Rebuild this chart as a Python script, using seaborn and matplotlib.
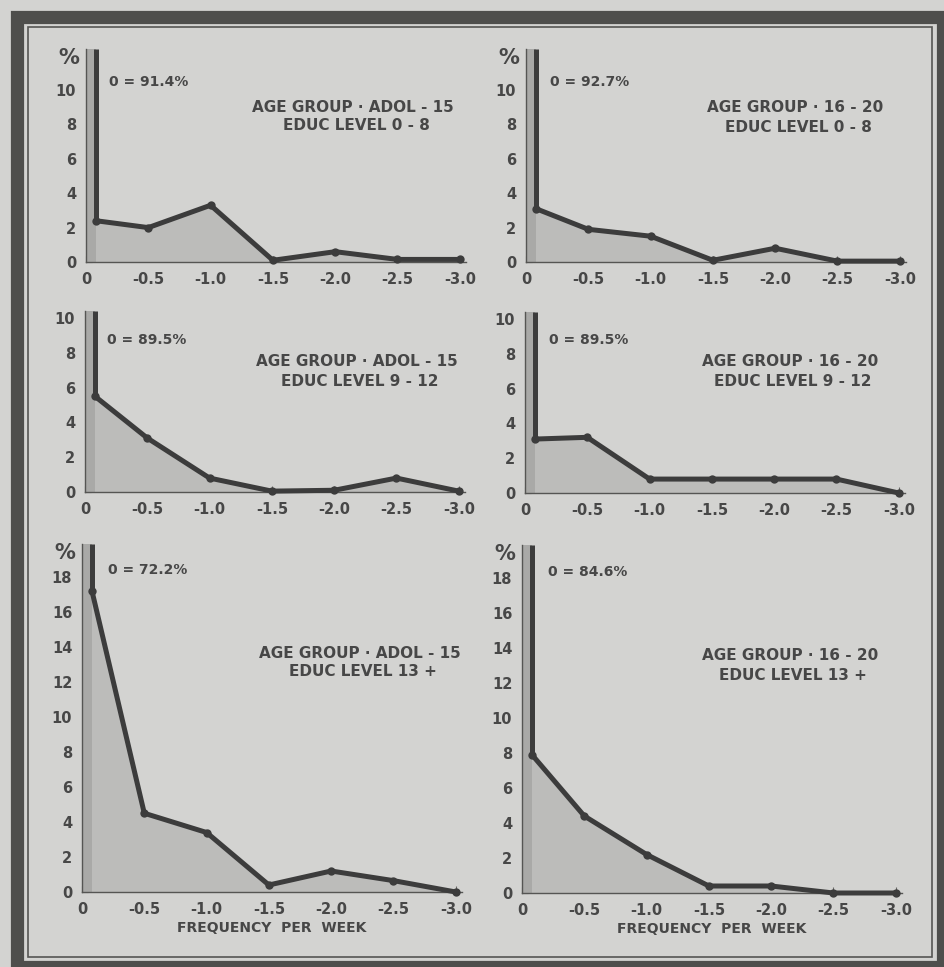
import numpy as np
import pandas as pd
import matplotlib.pyplot as plt
from matplotlib.patches import Rectangle
import seaborn as sns

sns.set_style("ticks")
plt.rcParams['font.family'] = ['DejaVu Sans']

# --- data ---
freq = [-0.08, -0.5, -1.0, -1.5, -2.0, -2.5, -3.0]
xtick_vals = [0, -0.5, -1.0, -1.5, -2.0, -2.5, -3.0]
xtick_labels = ['0', '-0.5', '-1.0', '-1.5', '-2.0', '-2.5', '-3.0']

adol_0_8 = [2.4, 2.0, 3.3, 0.1, 0.6, 0.15, 0.15]
age16_0_8 = [3.1, 1.9, 1.5, 0.1, 0.8, 0.05, 0.05]
adol_9_12 = [5.5, 3.1, 0.8, 0.05, 0.1, 0.8, 0.05]
age16_9_12 = [3.1, 3.2, 0.8, 0.8, 0.8, 0.8, 0.0]
adol_13 = [17.2, 4.5, 3.4, 0.4, 1.2, 0.65, 0.0]
age16_13 = [7.9, 4.4, 2.2, 0.4, 0.4, 0.0, 0.0]

zero_pct = ['0 = 91.4%', '0 = 92.7%', '0 = 89.5%', '0 = 89.5%', '0 = 72.2%', '0 = 84.6%']
age_groups = ['AGE GROUP \u00b7 ADOL - 15', 'AGE GROUP \u00b7 16 - 20'] * 3
educ_levels = ['EDUC LEVEL 0 - 8'] * 2 + ['EDUC LEVEL 9 - 12'] * 2 + ['EDUC LEVEL 13 +'] * 2
series = [adol_0_8, age16_0_8, adol_9_12, age16_9_12, adol_13, age16_13]

# --- layout (pixels) ---
W, H = 945, 967
BG = '#d3d3d1'
FILL = '#bcbcba'
STRIP = '#a9a9a7'
INK = '#3c3c3c'
TXT = '#474747'

# left px, y0 px, ymax (data), px per y-unit, top tick, show "%"
panels = [
    (86, 262, 12.4, 17.2, 10, True),
    (526, 262, 12.4, 17.2, 10, True),
    (85, 492, 10.4, 17.4, 10, False),
    (525, 493, 10.4, 17.4, 10, False),
    (82, 892, 19.9, 17.5, 18, True),
    (522, 893, 19.9, 17.5, 18, True),
]
title_pos = [(353, 107), (795, 108), (357, 362), (790, 362), (360, 653), (790, 656)]
zero_pos = [(109, 82), (550, 82), (107, 340), (549, 340), (108, 570), (548, 572)]
axw = 380
xmin, xmax = 0, -3.05

fig = plt.figure(figsize=(W / 100, H / 100), dpi=100, facecolor=BG)

# page frame
fig.patches.append(Rectangle((16.5 / W, 1 - 966.5 / H), 927 / W, 950 / H, transform=fig.transFigure,
                             fill=False, lw=9.5, ec='#4e4e4c', zorder=0))
fig.patches.append(Rectangle((28 / W, 1 - 957 / H), 904 / W, 930 / H, transform=fig.transFigure,
                             fill=False, lw=1.2, ec='#555553', zorder=0))

for i, (left, y0, ymax, ppu, ytop, pct) in enumerate(panels):
    vals = series[i]
    top_px = y0 - ymax * ppu
    ax = fig.add_axes([left / W, 1 - y0 / H, axw / W, (y0 - top_px) / H])
    ax.set_facecolor('none')

    df = pd.DataFrame({'freq': freq, 'pct': vals})
    # shaded area under the curve + strip for the zero spike
    ax.fill_between([0] + freq, [0] + vals, 0, color=FILL, lw=0, zorder=1)
    ax.fill_between([0, freq[0]], [ymax, ymax], 0, color=STRIP, lw=0, zorder=1)
    ax.plot([freq[0], freq[0]], [ymax, vals[0]], color=INK, lw=3.6, solid_capstyle='butt', zorder=3)
    sns.lineplot(data=df, x='freq', y='pct', ax=ax, color=INK, lw=3.6, marker='o',
                 markersize=6, markeredgewidth=0, zorder=4)
    for ln in ax.lines:
        ln.set_clip_on(False)

    ax.set_xlim(xmin, xmax)
    ax.set_ylim(0, ymax)
    ax.set_xticks(xtick_vals)
    ax.set_xticklabels(xtick_labels)
    ax.set_yticks(list(range(0, ytop + 1, 2)))
    ax.set_xlabel('')
    ax.set_ylabel('')
    ax.tick_params(direction='in', length=4, width=0.8, color='#666664', labelcolor=TXT,
                   labelsize=10.5, pad=7)
    for lab in ax.get_xticklabels() + ax.get_yticklabels():
        lab.set_fontweight('bold')
    sns.despine(ax=ax)
    for s in ['left', 'bottom']:
        ax.spines[s].set_color('#555553')
        ax.spines[s].set_linewidth(1.0)
    if pct:
        ax.text(-0.045, ymax - 0.55, '%', transform=ax.get_yaxis_transform(), ha='center', va='center',
                fontsize=15, color=TXT, fontweight='bold')
    if i >= 4:
        ax.set_xlabel('FREQUENCY  PER  WEEK', fontsize=10, color=TXT, fontweight='bold', labelpad=3)

    tx, ty = title_pos[i]
    fig.text(tx / W, 1 - ty / H, age_groups[i], ha='center', va='center', fontsize=11,
             color=TXT, fontweight='bold')
    fig.text((tx + 3) / W, 1 - (ty + 19) / H, educ_levels[i], ha='center', va='center', fontsize=11,
             color=TXT, fontweight='bold')
    zx, zy = zero_pos[i]
    fig.text(zx / W, 1 - zy / H, zero_pct[i], ha='left', va='center', fontsize=10,
             color=TXT, fontweight='bold')

fig.savefig('out.png', dpi=100, facecolor=BG)
